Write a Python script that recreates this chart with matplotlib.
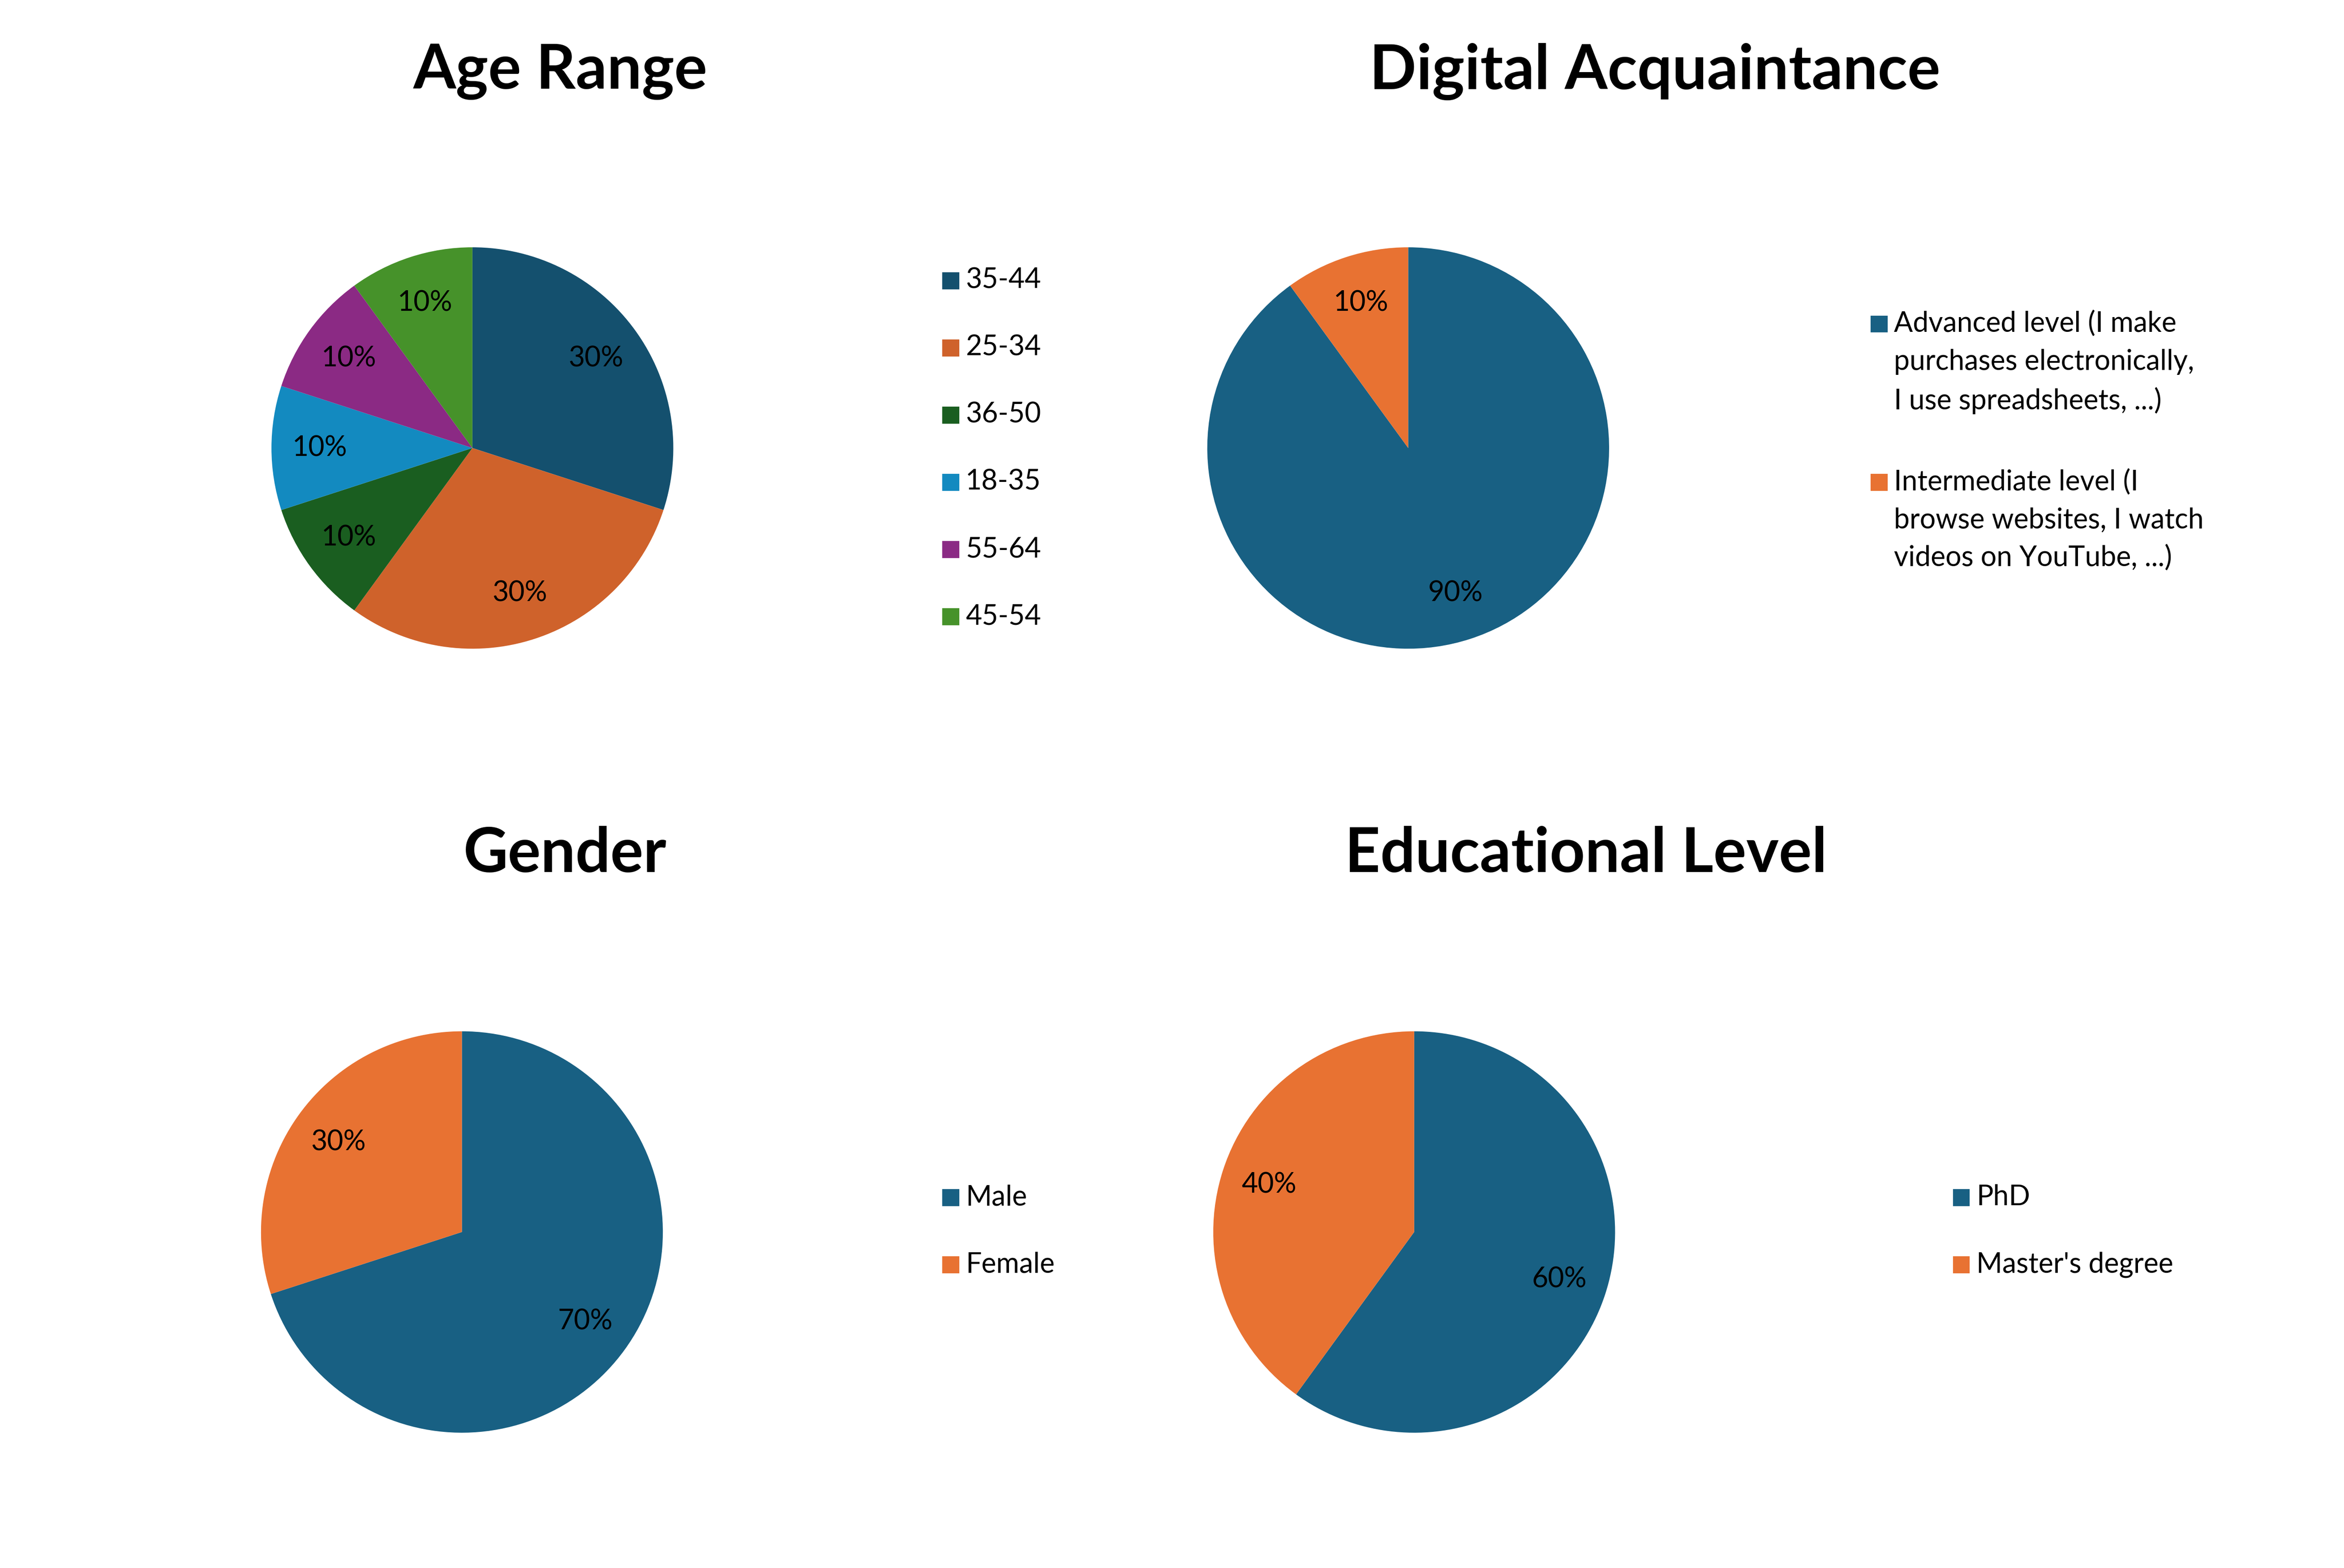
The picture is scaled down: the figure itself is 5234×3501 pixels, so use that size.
import matplotlib
matplotlib.use("Agg")
import matplotlib.pyplot as plt
from matplotlib.patches import Rectangle

plt.rcParams["font.family"] = "Lato"

age_labels = ["35-44", "25-34", "36-50", "18-35", "55-64", "45-54"]
age_values = [30, 30, 10, 10, 10, 10]
age_colors = ["#14506E", "#CF622B", "#1A5E20", "#138AC0", "#8B2A84", "#46922A"]

dig_labels = ["Advanced level (I make\npurchases electronically,\nI use spreadsheets, ...)",
              "Intermediate level (I\nbrowse websites, I watch\nvideos on YouTube, ...)"]
dig_values = [90, 10]

gen_labels = ["Male", "Female"]
gen_values = [70, 30]

edu_labels = ["PhD", "Master's degree"]
edu_values = [60, 40]

two_colors = ["#186083", "#E87232"]

W, H = 1568, 1050
fig = plt.figure(figsize=(5234/300, 3501/300), dpi=300)

def pie(cx, cy, r, vals, cols, title, tx, ty):
    ax = fig.add_axes([(cx-r)/W, 1-(cy+r)/H, 2*r/W, 2*r/H])
    ax.pie(vals, colors=cols, startangle=90, counterclock=False,
           autopct="%d%%", pctdistance=0.76,
           textprops=dict(fontsize=15, color="black"))
    ax.set_aspect("auto")
    fig.text(tx/W, 1-ty/H, title, fontsize=33, fontweight="bold", ha="center", va="center")

def legend(x, ys, labels, cols):
    for y, lab, c in zip(ys, labels, cols):
        fig.patches.append(Rectangle(((x-5)/W, 1-(y+5)/H), 10/W, 10/H,
                                     transform=fig.transFigure, color=c))
        fig.text((x+10)/W, 1-(y-9)/H, lab, fontsize=15, ha="left", va="top", linespacing=1.55)

pie(316, 300, 168, age_values, age_colors, "Age Range", 375, 48)
legend(636, [188, 233, 278, 323, 368, 413], age_labels, age_colors)

pie(942, 300, 168, dig_values, two_colors, "Digital Acquaintance", 1107, 48)
legend(1257, [217, 323], dig_labels, two_colors)

pie(309, 825, 168, gen_values, two_colors, "Gender", 378, 572)
legend(636, [802, 847], gen_labels, two_colors)

pie(946, 825, 168, edu_values, two_colors, "Educational Level", 1061, 572)
legend(1312, [802, 847], edu_labels, two_colors)

fig.savefig("out.png", dpi=300, facecolor="white")
